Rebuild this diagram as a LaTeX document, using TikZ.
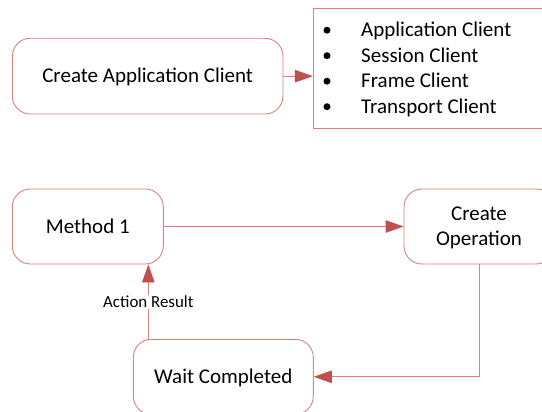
\documentclass[tikz,border=0pt]{standalone}
\usepackage{fontspec}
\setmainfont{Carlito}
\usetikzlibrary{arrows.meta}
\definecolor{linered}{HTML}{D4857E}
\definecolor{tipred}{HTML}{C0504D}
\tikzset{
  stepbox/.style={draw=linered, line width=0.9pt, rounded corners=18pt,
    inner sep=0pt, font=\fontsize{21}{25}\selectfont, text=black},
  onerow/.style={text height=13.5pt, text depth=0pt},
  tworow/.style={align=center, text height=38.5pt, text depth=0pt},
  listbox/.style={draw=linered, line width=0.9pt, inner sep=0pt},
  listtext/.style={anchor=base west, inner sep=0pt, font=\fontsize{21}{25}\selectfont},
  dot/.style={circle, fill=black, inner sep=0pt, minimum size=7pt},
  flow/.style={draw=linered, line width=0.9pt,
    -{Triangle[length=18pt, width=12.5pt, fill=tipred, color=tipred]}},
  edgelabel/.style={fill=white, inner sep=1.5pt, font=\fontsize{16.9}{18}\selectfont,
    text height=10.9pt, text depth=0pt}
}
\begin{document}
\begin{tikzpicture}[x=1pt, y=-1pt]
  \useasboundingbox (0,0) rectangle (542,412);
  \clip (0,0) rectangle (542,412);

  % upper part: creating the client and its parts
  \node[stepbox, onerow, minimum width=270.7pt, minimum height=75.7pt]
    (cac) at (147.65,76.15) {Create Application Client};
  \node[listbox, minimum width=246.7pt, minimum height=120.4pt]
    (list) at (436.65,68.5) {};
  \node[dot] (b1) at (327,30.2) {};
  \node[dot] (b2) at (327,55.7) {};
  \node[dot] (b3) at (327,81.2) {};
  \node[dot] (b4) at (327,106.7) {};
  \node[listtext] (l1) at (361,36.7) {Application Client};
  \node[listtext] (l2) at (361,62.2) {Session Client};
  \node[listtext] (l3) at (361,87.7) {Frame Client};
  \node[listtext] (l4) at (361,113.2) {Transport Client};
  \draw[flow] (cac.east) -- (cac.east -| list.west);

  % lower part: the operation loop
  \node[stepbox, onerow, minimum width=151pt, minimum height=75pt]
    (m1) at (87.8,226.5) {Method 1};
  \node[stepbox, tworow, minimum width=150pt, minimum height=75pt]
    (cop) at (479,226.5) {Create\\Operation};
  \node[stepbox, onerow, minimum width=180pt, minimum height=75pt]
    (wait) at (223.3,376.8) {Wait Completed};

  \draw[flow] (m1.east) -- (cop.west);
  \draw[flow] (cop.south) |- (wait.east);
  \draw[flow] ([xshift=-75pt]wait.north) -- ([xshift=-75pt]wait.north |- m1.south)
    node[midway, edgelabel] (ar) {Action Result};
\end{tikzpicture}
\end{document}
